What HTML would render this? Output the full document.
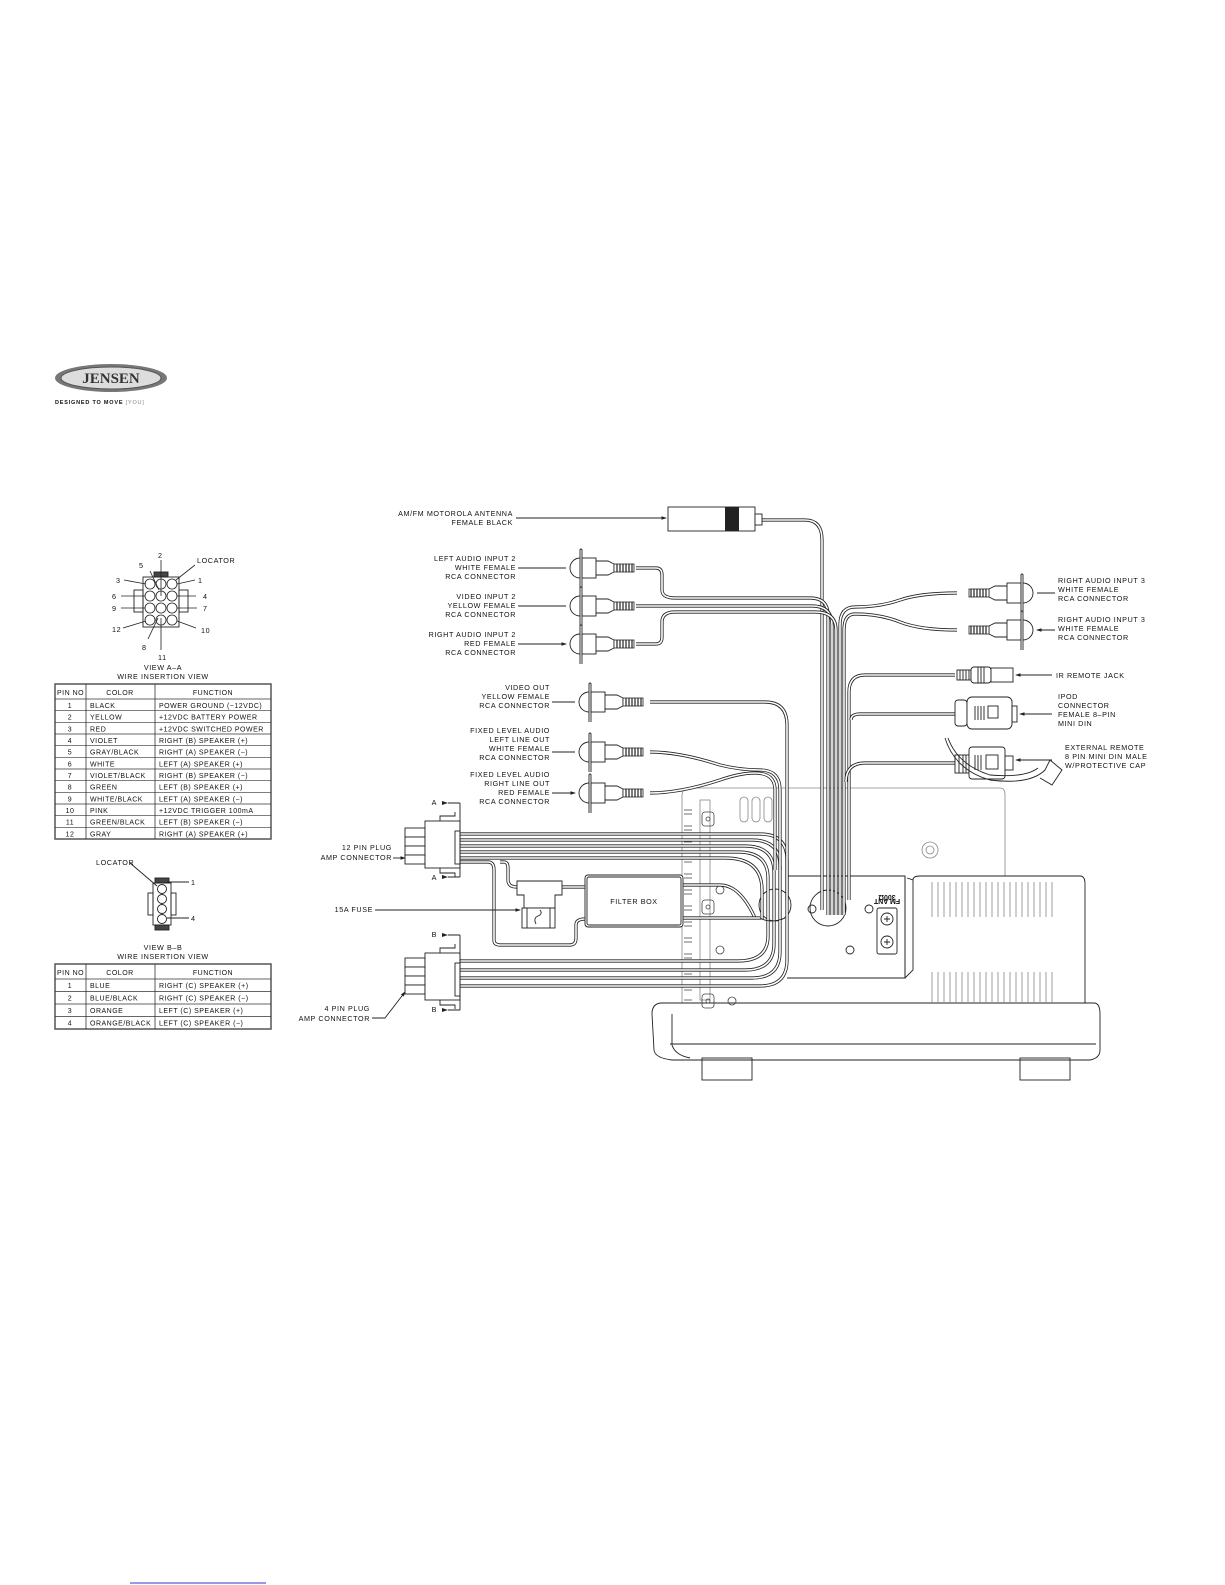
<!DOCTYPE html>
<html><head><meta charset="utf-8"><style>
html,body{margin:0;padding:0;background:#fff}
svg{display:block}
text{font-family:"Liberation Sans",sans-serif;fill:#111}
.t{font-size:7.2px;letter-spacing:0.6px}
.tb{font-size:7px;letter-spacing:0.5px}
.w{fill:none;stroke:#222;stroke-width:3.2}
.wi{fill:none;stroke:#fff;stroke-width:1.6}
.l{fill:none;stroke:#222;stroke-width:0.9}
.g{fill:none;stroke:#888;stroke-width:0.8}
</style></head><body>
<svg width="1225" height="1585" viewBox="0 0 1225 1585" xmlns="http://www.w3.org/2000/svg">
<defs>
<marker id="ar" markerWidth="6" markerHeight="6" refX="5" refY="3" orient="auto"><path d="M0,1 L6,3 L0,5Z" fill="#222"/></marker>
<g id="rca">
 <path d="M12,-10 A10,10 0 0 0 12,10" class="l"/>
 <path d="M12,-18 L12,20 M14,-18 L14,20 M12,-18 A1,1 0 0 1 14,-18" class="l"/>
 <rect x="14" y="-10" width="14" height="20" class="l"/>
 <path d="M28,-7 L40,-7 L46,-4 L46,4 L40,7 L28,7" class="l"/>
 <rect x="46" y="-4" width="20" height="8" fill="#fff" stroke="#222" stroke-width="0.8"/>
 <path d="M49,-4V4M52,-4V4M55,-4V4M58,-4V4M61,-4V4M64,-4V4" stroke="#222" stroke-width="1.2"/>
</g>
</defs>

<!-- logo -->
<ellipse cx="111" cy="378" rx="56" ry="14" fill="#777"/>
<ellipse cx="111" cy="378" rx="50" ry="11" fill="#ddd" stroke="#555"/>
<text x="111" y="383" text-anchor="middle" style="font-family:'Liberation Serif',serif;font-weight:bold;font-size:15px;fill:#333">JENSEN</text>
<text x="55" y="404" style="font-size:5.5px;font-weight:bold;letter-spacing:0.8px">DESIGNED TO MOVE <tspan style="fill:#888;font-weight:normal">[YOU]</tspan></text>

<!-- 12 pin connector drawing -->
<g class="l">
 <rect x="143" y="577" width="36" height="50"/>
 <rect x="134" y="590" width="9" height="22"/><rect x="179" y="590" width="9" height="22"/>
 <rect x="154" y="572" width="14" height="5" fill="#444"/>
</g>
<g fill="none" stroke="#222" stroke-width="0.8">
<circle cx="150" cy="584" r="5"/><circle cx="161" cy="584" r="5"/><circle cx="172" cy="584" r="5"/>
<circle cx="150" cy="596" r="5"/><circle cx="161" cy="596" r="5"/><circle cx="172" cy="596" r="5"/>
<circle cx="150" cy="608" r="5"/><circle cx="161" cy="608" r="5"/><circle cx="172" cy="608" r="5"/>
<circle cx="150" cy="620" r="5"/><circle cx="161" cy="620" r="5"/><circle cx="172" cy="620" r="5"/>
<path d="M161,560V596 M124,580L146,584 M121,596L145,596 M121,608L145,608 M123,628L146,621 M148,639L158,618 M161,650V618 M195,580L177,584 M196,596L177,596 M197,608L177,608 M196,628L177,621 M195,565L176,580 M150,571L159,590"/>
</g>
<g class="t">
<text x="158" y="558">2</text><text x="139" y="568">5</text><text x="197" y="563">LOCATOR</text>
<text x="116" y="583">3</text><text x="198" y="583">1</text>
<text x="112" y="599">6</text><text x="203" y="599">4</text>
<text x="112" y="611">9</text><text x="203" y="611">7</text>
<text x="112" y="632">12</text><text x="201" y="633">10</text>
<text x="142" y="650">8</text><text x="158" y="660">11</text>
<text x="163" y="670" text-anchor="middle">VIEW A–A</text>
<text x="163" y="679" text-anchor="middle">WIRE INSERTION VIEW</text>
</g>

<!-- table 1 -->
<g class="tb">
<rect x="55" y="684" width="216" height="155" fill="none" stroke="#555" stroke-width="1.5"/>
<path d="M86,684V839 M155,684V839" stroke="#333" stroke-width="0.8"/>
<g stroke="#333" stroke-width="0.7">
<line x1="55" y1="699" x2="271" y2="699"/><line x1="55" y1="710.7" x2="271" y2="710.7"/><line x1="55" y1="722.3" x2="271" y2="722.3"/><line x1="55" y1="734" x2="271" y2="734"/><line x1="55" y1="745.7" x2="271" y2="745.7"/><line x1="55" y1="757.3" x2="271" y2="757.3"/><line x1="55" y1="769" x2="271" y2="769"/><line x1="55" y1="780.7" x2="271" y2="780.7"/><line x1="55" y1="792.3" x2="271" y2="792.3"/><line x1="55" y1="804" x2="271" y2="804"/><line x1="55" y1="815.7" x2="271" y2="815.7"/><line x1="55" y1="827.3" x2="271" y2="827.3"/>
</g>
<text x="57" y="695">PIN NO</text><text x="120" y="695" text-anchor="middle">COLOR</text><text x="213" y="695" text-anchor="middle">FUNCTION</text>
<g>
<text x="70" y="708" text-anchor="middle">1</text><text x="90" y="708">BLACK</text><text x="159" y="708">POWER GROUND (−12VDC)</text>
<text x="70" y="719.7" text-anchor="middle">2</text><text x="90" y="719.7">YELLOW</text><text x="159" y="719.7">+12VDC BATTERY POWER</text>
<text x="70" y="731.3" text-anchor="middle">3</text><text x="90" y="731.3">RED</text><text x="159" y="731.3">+12VDC SWITCHED POWER</text>
<text x="70" y="743" text-anchor="middle">4</text><text x="90" y="743">VIOLET</text><text x="159" y="743">RIGHT (B) SPEAKER (+)</text>
<text x="70" y="754.7" text-anchor="middle">5</text><text x="90" y="754.7">GRAY/BLACK</text><text x="159" y="754.7">RIGHT (A) SPEAKER (−)</text>
<text x="70" y="766.3" text-anchor="middle">6</text><text x="90" y="766.3">WHITE</text><text x="159" y="766.3">LEFT (A) SPEAKER (+)</text>
<text x="70" y="778" text-anchor="middle">7</text><text x="90" y="778">VIOLET/BLACK</text><text x="159" y="778">RIGHT (B) SPEAKER (−)</text>
<text x="70" y="789.7" text-anchor="middle">8</text><text x="90" y="789.7">GREEN</text><text x="159" y="789.7">LEFT (B) SPEAKER (+)</text>
<text x="70" y="801.3" text-anchor="middle">9</text><text x="90" y="801.3">WHITE/BLACK</text><text x="159" y="801.3">LEFT (A) SPEAKER (−)</text>
<text x="70" y="813" text-anchor="middle">10</text><text x="90" y="813">PINK</text><text x="159" y="813">+12VDC TRIGGER 100mA</text>
<text x="70" y="824.7" text-anchor="middle">11</text><text x="90" y="824.7">GREEN/BLACK</text><text x="159" y="824.7">LEFT (B) SPEAKER (−)</text>
<text x="70" y="836.3" text-anchor="middle">12</text><text x="90" y="836.3">GRAY</text><text x="159" y="836.3">RIGHT (A) SPEAKER (+)</text>
</g>
</g>

<!-- 4 pin connector drawing -->
<g class="l">
<rect x="155" y="878" width="14" height="5" fill="#444"/><rect x="155" y="925" width="14" height="5" fill="#444"/>
<rect x="153" y="883" width="18" height="42"/>
<rect x="148" y="893" width="5" height="22"/><rect x="171" y="893" width="5" height="22"/>
<circle cx="162" cy="889" r="4.5"/><circle cx="162" cy="899" r="4.5"/><circle cx="162" cy="909" r="4.5"/><circle cx="162" cy="919" r="4.5"/>
<path d="M130,863L157,886 M167,882H189 M167,918H189"/>
</g>
<g class="t">
<text x="96" y="865">LOCATOR</text><text x="191" y="885">1</text><text x="191" y="921">4</text>
<text x="163" y="950" text-anchor="middle">VIEW B–B</text>
<text x="163" y="959" text-anchor="middle">WIRE INSERTION VIEW</text>
</g>
<g class="tb">
<rect x="55" y="964" width="216" height="65" fill="none" stroke="#555" stroke-width="1.5"/>
<path d="M86,964V1029 M155,964V1029" stroke="#333" stroke-width="0.8"/>
<path d="M55,979H271 M55,991.5H271 M55,1004H271 M55,1016.5H271" stroke="#333" stroke-width="0.7"/>
<text x="57" y="975">PIN NO</text><text x="120" y="975" text-anchor="middle">COLOR</text><text x="213" y="975" text-anchor="middle">FUNCTION</text>
<text x="70" y="988" text-anchor="middle">1</text><text x="90" y="988">BLUE</text><text x="159" y="988">RIGHT (C) SPEAKER (+)</text>
<text x="70" y="1000.5" text-anchor="middle">2</text><text x="90" y="1000.5">BLUE/BLACK</text><text x="159" y="1000.5">RIGHT (C) SPEAKER (−)</text>
<text x="70" y="1013" text-anchor="middle">3</text><text x="90" y="1013">ORANGE</text><text x="159" y="1013">LEFT (C) SPEAKER (+)</text>
<text x="70" y="1025.5" text-anchor="middle">4</text><text x="90" y="1025.5">ORANGE/BLACK</text><text x="159" y="1025.5">LEFT (C) SPEAKER (−)</text>
</g>

<!-- HEAD UNIT -->
<g class="g">
<path d="M690,788H1000Q1005,788 1005,795V876"/>
<path d="M690,788Q682,788 682,796V1003"/>
<rect x="700" y="800" width="10" height="200"/>
<rect x="740" y="797" width="8" height="25" rx="4"/><rect x="752" y="797" width="8" height="25" rx="4"/><rect x="764" y="797" width="8" height="25" rx="4"/>
<circle cx="930" cy="850" r="8"/><circle cx="930" cy="850" r="4"/>
</g>
<g class="l">
<path d="M787,876H905V978H787"/>
<path d="M905,876V978 M907,878L913,880V970L905,978"/>
<circle cx="828" cy="908" r="18"/><circle cx="775" cy="905" r="16"/>
<circle cx="812" cy="909" r="4"/><circle cx="869" cy="909" r="4"/><circle cx="850" cy="950" r="4"/>
<rect x="877" y="908" width="20" height="46" rx="2"/>
<circle cx="887" cy="919" r="6"/><circle cx="887" cy="942" r="6"/>
<path d="M884,919H890M887,916V922M884,942H890M887,939V945"/>
<path d="M913,880Q913,876 920,876H1080Q1085,876 1085,884V1003"/>
<path d="M652,1014Q652,1003 662,1003H1094Q1100,1003 1100,1014V1050Q1100,1058 1090,1060H672Q655,1058 654,1050Z"/>
<path d="M672,1014V1045 Q675,1055 690,1058 M670,1044H1096"/>
<rect x="702" y="1058" width="50" height="22"/><rect x="1020" y="1058" width="50" height="22"/>
<path d="M752,1060H1020"/>
</g>
<text x="887" y="897" transform="rotate(180 887 896)" style="font-size:7px;font-weight:bold" text-anchor="middle">300Ω</text>
<text x="887" y="905" transform="rotate(180 887 902)" style="font-size:7px;font-weight:bold" text-anchor="middle">FM ANT</text>
<g class="g">
<path d="M932,882V917M938,882V917M944,882V917M950,882V917M956,882V917M962,882V917M968,882V917M974,882V917M980,882V917M986,882V917M992,882V917M998,882V917M1004,882V917M1010,882V917M1016,882V917M1022,882V917M1028,882V917M1034,882V917M1040,882V917M1046,882V917M1052,882V917"/>
<path d="M932,972V1003M938,972V1003M944,972V1003M950,972V1003M956,972V1003M962,972V1003M968,972V1003M974,972V1003M980,972V1003M986,972V1003M992,972V1003M998,972V1003M1004,972V1003M1010,972V1003M1016,972V1003M1022,972V1003M1028,972V1003M1034,972V1003M1040,972V1003M1046,972V1003M1052,972V1003"/>
</g>
<g stroke="#444" stroke-width="0.8" fill="none">
<path d="M684,810h8M684,826h8M684,842h8M684,858h8M684,874h8M684,890h8M684,906h8M684,922h8M684,938h8M684,954h8M684,970h8M684,986h8M684,1000h8"/>
<path d="M684,814h8M684,830h8M684,846h8M684,862h8M684,878h8M684,894h8M684,910h8M684,926h8M684,942h8M684,958h8M684,974h8M684,990h8"/>
<rect x="702" y="812" width="12" height="14" rx="3"/><circle cx="708" cy="819" r="2"/>
<rect x="702" y="900" width="12" height="14" rx="3"/><circle cx="708" cy="907" r="2"/>
<rect x="702" y="994" width="12" height="14" rx="3"/><circle cx="708" cy="1001" r="2"/>
<circle cx="720" cy="890" r="4"/><circle cx="720" cy="950" r="4"/><circle cx="732" cy="1001" r="4"/>
</g>

<g>
<path class="w" d="M460,834H760Q787,834 787,860V960Q787,986 760,986H460"/>
<path class="wi" d="M460,834H760Q787,834 787,860V960Q787,986 760,986H460"/>
<path class="w" d="M460,840H752Q780,840 780,866V952Q780,978 752,978H460"/>
<path class="wi" d="M460,840H752Q780,840 780,866V952Q780,978 752,978H460"/>
<path class="w" d="M460,846H745Q774,846 774,872V944Q774,970 745,970H460"/>
<path class="wi" d="M460,846H745Q774,846 774,872V944Q774,970 745,970H460"/>
<path class="w" d="M460,852H738Q768,852 768,878V936Q768,961 738,961H460"/>
<path class="wi" d="M460,852H738Q768,852 768,878V936Q768,961 738,961H460"/>
<path class="w" d="M460,858H725Q762,858 762,890V920"/>
<path class="wi" d="M460,858H725Q762,858 762,890V920"/>
<path class="w" d="M683,885H720Q740,885 755,918"/>
<path class="wi" d="M683,885H720Q740,885 755,918"/>
<path class="w" d="M683,918H760"/><path class="wi" d="M683,918H760"/>
<path class="w" d="M460,862H488Q494,862 494,870V940Q494,945 500,945H570Q576,945 576,938V925Q576,919 585,919"/>
<path class="wi" d="M460,862H488Q494,862 494,870V940Q494,945 500,945H570Q576,945 576,938V925Q576,919 585,919"/>
<path class="w" d="M500,862H504Q508,862 508,868V880Q508,887 517,887"/>
<path class="wi" d="M500,862H504Q508,862 508,868V880Q508,887 517,887"/>
<path class="w" d="M562,887H585"/><path class="wi" d="M562,887H585"/>
<path class="w" d="M762,520H805Q822,520 822,540V910"/><path class="wi" d="M762,520H805Q822,520 822,540V910"/>
<path class="w" d="M636,568H656Q662,568 662,575V590Q662,598 675,598H810Q828,598 828,615V915"/><path class="wi" d="M636,568H656Q662,568 662,575V590Q662,598 675,598H810Q828,598 828,615V915"/>
<path class="w" d="M636,606H812Q832,606 832,625V915"/><path class="wi" d="M636,606H812Q832,606 832,625V915"/>
<path class="w" d="M636,644H656Q662,644 662,637V622Q662,612 675,612H815Q836,612 836,630V915"/><path class="wi" d="M636,644H656Q662,644 662,637V622Q662,612 675,612H815Q836,612 836,630V915"/>
<path class="w" d="M957,593Q920,593 900,600Q880,607 855,607Q840,607 840,625V915"/><path class="wi" d="M957,593Q920,593 900,600Q880,607 855,607Q840,607 840,625V915"/>
<path class="w" d="M957,630Q920,630 900,622Q880,614 855,614Q844,614 844,630V915"/><path class="wi" d="M957,630Q920,630 900,622Q880,614 855,614Q844,614 844,630V915"/>
<path class="w" d="M955,675H865Q849,675 849,692V900"/><path class="wi" d="M955,675H865Q849,675 849,692V900"/>
<path class="w" d="M955,714H860Q851,714 851,720"/><path class="wi" d="M955,714H860Q851,714 851,720"/>
<path class="w" d="M955,763H865Q846,763 846,782"/><path class="wi" d="M955,763H865Q846,763 846,782"/>
<path class="w" d="M650,702H765Q787,702 787,725V900"/><path class="wi" d="M650,702H765Q787,702 787,725V900"/>
<path class="w" d="M650,752Q680,752 720,765Q740,770 760,770Q780,770 780,790V870"/><path class="wi" d="M650,752Q680,752 720,765Q740,770 760,770Q780,770 780,790V870"/>
<path class="w" d="M650,793Q680,793 720,780Q740,773 755,773Q775,773 775,790V870"/><path class="wi" d="M650,793Q680,793 720,780Q740,773 755,773Q775,773 775,790V870"/>
</g>
<path d="M760,918Q770,924 785,918" class="l"/>

<!-- 12 pin plug -->
<g class="l">
<rect x="405" y="828" width="20" height="9" fill="#fff"/><rect x="405" y="837" width="20" height="9" fill="#fff"/><rect x="405" y="846" width="20" height="9" fill="#fff"/><rect x="405" y="855" width="20" height="9" fill="#fff"/>
<rect x="425" y="821" width="35" height="47" fill="#fff"/>
<rect x="455" y="831" width="5" height="33"/>
<path d="M440,821V816H455V812 M440,868V873H455V877 M460,803V877 M448,803H460 M448,877H460"/>
<path d="M393,858H405" marker-end="url(#ar)"/>
</g>
<g class="l">
<rect x="405" y="958" width="20" height="9" fill="#fff"/><rect x="405" y="967" width="20" height="9" fill="#fff"/><rect x="405" y="976" width="20" height="9" fill="#fff"/><rect x="405" y="985" width="20" height="9" fill="#fff"/>
<rect x="425" y="953" width="35" height="47" fill="#fff"/>
<rect x="455" y="963" width="5" height="33"/>
<path d="M440,953V948H455V944 M440,1000V1005H455V1009 M460,935V1010 M448,935H460 M448,1010H460"/>
<path d="M372,1018H385L405,992" marker-end="url(#ar)"/>
</g>
<text x="437" y="805" class="t" text-anchor="end">A</text><text x="437" y="880" class="t" text-anchor="end">A</text>
<text x="437" y="937" class="t" text-anchor="end">B</text><text x="437" y="1012" class="t" text-anchor="end">B</text>
<path d="M448,803l-6,-2v4z M448,877l-6,-2v4z M448,935l-6,-2v4z M448,1010l-6,-2v4z" fill="#222"/>

<g class="l">
<path d="M517,881H562V895H555V908H524V895H517Z" fill="#fff"/>
<rect x="522" y="908" width="33" height="20" fill="#fff"/>
<path d="M527,908V928M550,908V928M536,924Q533,918 538,916Q543,914 540,910"/>
<rect x="585" y="875" width="98" height="52" rx="3" fill="#fff"/>
<rect x="587" y="877" width="94" height="48" rx="2"/>
<path d="M375,910H520" marker-end="url(#ar)"/>
</g>
<text x="634" y="904" class="t" text-anchor="middle">FILTER BOX</text>

<rect x="668" y="507" width="87" height="24" fill="#fff" stroke="#222" stroke-width="0.9"/>
<rect x="725" y="507" width="14" height="24" fill="#222"/>
<rect x="755" y="514" width="7" height="11" fill="#fff" stroke="#222" stroke-width="0.9"/>
<path d="M516,518H666" class="l" marker-end="url(#ar)"/>

<use href="#rca" x="568" y="568"/><use href="#rca" x="568" y="606"/><use href="#rca" x="568" y="644"/>
<path d="M518,568H566M518,606H566M518,644H566" class="l" marker-end="url(#ar)"/>
<use href="#rca" x="577" y="702"/><use href="#rca" x="577" y="752"/><use href="#rca" x="577" y="793"/>
<path d="M552,702H575M552,752H575M552,793H575" class="l" marker-end="url(#ar)"/>
<use href="#rca" transform="translate(1035,593) scale(-1,1)"/>
<use href="#rca" transform="translate(1035,630) scale(-1,1)"/>
<path d="M1055,593H1037M1055,630H1037" class="l" marker-end="url(#ar)"/>
<g class="l">
<rect x="957" y="670" width="14" height="10" fill="#fff"/>
<path d="M960,670V680M963,670V680M966,670V680M969,670V680"/>
<rect x="971" y="667" width="20" height="16" rx="3" fill="#fff"/>
<path d="M978,667V683M981,667V683M984,667V683"/>
<rect x="991" y="668" width="22" height="14" fill="#fff"/>
<path d="M1052,675H1016" marker-end="url(#ar)"/>
<rect x="955" y="700" width="12" height="26" rx="3" fill="#fff"/>
<rect x="967" y="697" width="45" height="32" rx="5" fill="#fff"/>
<path d="M975,706V720M978,706V720M981,706V720M984,706V720"/>
<rect x="988" y="706" width="10" height="12"/>
<rect x="1012" y="706" width="5" height="16"/>
<path d="M1052,714H1020" marker-end="url(#ar)"/>
<rect x="955" y="755" width="14" height="18" fill="#fff"/>
<path d="M959,755V773M963,755V773M966,755V773"/>
<rect x="969" y="747" width="36" height="32" rx="3" fill="#fff"/>
<path d="M975,755V770M978,755V770M981,755V770"/>
<rect x="986" y="755" width="12" height="14"/>
<rect x="1005" y="756" width="8" height="14" fill="#fff"/>
<path d="M1052,760H1016" marker-end="url(#ar)"/>
<path d="M945,738Q955,770 990,780Q1030,785 1045,770L1050,760L1062,770L1052,785L1040,778"/>
<path d="M948,738Q958,765 990,775Q1025,778 1038,768"/>
</g>

<g class="t" text-anchor="end">
<text x="513" y="516">AM/FM MOTOROLA ANTENNA</text><text x="513" y="525">FEMALE BLACK</text>
<text x="516" y="561">LEFT AUDIO INPUT 2</text><text x="516" y="570">WHITE FEMALE</text><text x="516" y="579">RCA CONNECTOR</text>
<text x="516" y="599">VIDEO INPUT 2</text><text x="516" y="608">YELLOW FEMALE</text><text x="516" y="617">RCA CONNECTOR</text>
<text x="516" y="637">RIGHT AUDIO INPUT 2</text><text x="516" y="646">RED FEMALE</text><text x="516" y="655">RCA CONNECTOR</text>
<text x="550" y="690">VIDEO OUT</text><text x="550" y="699">YELLOW FEMALE</text><text x="550" y="708">RCA CONNECTOR</text>
<text x="550" y="733">FIXED LEVEL AUDIO</text><text x="550" y="742">LEFT LINE OUT</text><text x="550" y="751">WHITE FEMALE</text><text x="550" y="760">RCA CONNECTOR</text>
<text x="550" y="777">FIXED LEVEL AUDIO</text><text x="550" y="786">RIGHT LINE OUT</text><text x="550" y="795">RED FEMALE</text><text x="550" y="804">RCA CONNECTOR</text>
<text x="392" y="850">12 PIN PLUG</text><text x="392" y="860">AMP CONNECTOR</text>
<text x="373" y="912">15A FUSE</text>
<text x="370" y="1011">4 PIN PLUG</text><text x="370" y="1021">AMP CONNECTOR</text>
</g>
<g class="t">
<text x="1058" y="583">RIGHT AUDIO INPUT 3</text><text x="1058" y="592">WHITE FEMALE</text><text x="1058" y="601">RCA CONNECTOR</text>
<text x="1058" y="622">RIGHT AUDIO INPUT 3</text><text x="1058" y="631">WHITE FEMALE</text><text x="1058" y="640">RCA CONNECTOR</text>
<text x="1056" y="678">IR REMOTE JACK</text>
<text x="1058" y="699">IPOD</text><text x="1058" y="708">CONNECTOR</text><text x="1058" y="717">FEMALE 8–PIN</text><text x="1058" y="726">MINI DIN</text>
<text x="1065" y="750">EXTERNAL REMOTE</text><text x="1065" y="759">8 PIN MINI DIN MALE</text><text x="1065" y="768">W/PROTECTIVE CAP</text>
</g>
<line x1="130" y1="1583" x2="266" y2="1583" stroke="#33c" stroke-width="1"/>
</svg>
</body></html>
